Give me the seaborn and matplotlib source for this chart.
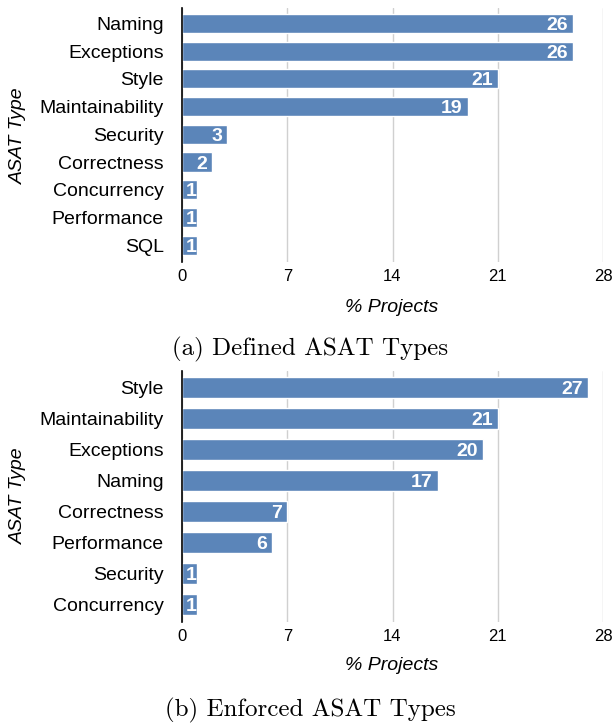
import matplotlib
matplotlib.use("Agg")
import matplotlib.pyplot as plt
import seaborn as sns
import pandas as pd

# Defined ASAT types (% projects)
defined_types = ["Naming", "Exceptions", "Style", "Maintainability", "Security",
                 "Correctness", "Concurrency", "Performance", "SQL"]
defined_pct = [26, 26, 21, 19, 3, 2, 1, 1, 1]

# Enforced ASAT types (% projects)
enforced_types = ["Style", "Maintainability", "Exceptions", "Naming",
                  "Correctness", "Performance", "Security", "Concurrency"]
enforced_pct = [27, 21, 20, 17, 7, 6, 1, 1]

x_ticks = [0, 7, 14, 21, 28]
captions = ["(a) Defined ASAT Types", "(b) Enforced ASAT Types"]

BAR = "#5b85b9"
W, H = 613, 723

sns.set_theme(style="white")
plt.rcParams["font.family"] = ["Liberation Sans", "DejaVu Sans"]
plt.rcParams["text.color"] = "black"

fig = plt.figure(figsize=(W / 100, H / 100), dpi=100)


def px_axes(left, top, right, bottom):
    return fig.add_axes([left / W, 1 - bottom / H, (right - left) / W, (bottom - top) / H])


def draw_panel(ax, types, pct, ylim, ylab_y, xlab_y, cap_y, caption):
    df = pd.DataFrame({"type": types, "pct": pct})
    sns.barplot(data=df, x="pct", y="type", color=BAR, saturation=1,
                width=0.69, ax=ax)
    ax.set_xlim(0, 28)
    ax.set_ylim(*ylim)
    ax.set_xticks(x_ticks)
    ax.set_xticklabels([str(t) for t in x_ticks])
    ax.xaxis.grid(True, color="#d0d0d0", linewidth=1)
    ax.set_axisbelow(True)
    for s in ["top", "right", "bottom"]:
        ax.spines[s].set_visible(False)
    ax.spines["left"].set_color("black")
    ax.spines["left"].set_linewidth(1.2)
    ax.tick_params(axis="x", length=0, pad=5, labelsize=12, colors="black")
    ax.tick_params(axis="y", length=0, pad=13, labelsize=14, colors="black")
    ax.set_xlabel("")
    ax.set_ylabel("")

    # value labels inside the bar ends
    for i, v in enumerate(pct):
        if v <= 1:
            ax.text(v * 0.63, i, str(v), ha="center", va="center_baseline",
                    color="white", fontsize=14, fontweight="bold")
        else:
            ax.text(v - 0.33, i, str(v), ha="right", va="center_baseline",
                    color="white", fontsize=14, fontweight="bold")

    fig.text(18 / W, 1 - ylab_y / H, "ASAT Type", rotation=90, ha="center",
             va="center", fontsize=14, fontstyle="italic")
    fig.text(392 / W, 1 - xlab_y / H, "% Projects", ha="center", va="center",
             fontsize=14, fontstyle="italic")
    fig.text(310 / W, 1 - cap_y / H, caption, ha="center", va="center",
             fontsize=18, family="cmr10")


ax1 = px_axes(182, 8, 603, 262)
draw_panel(ax1, defined_types, defined_pct, (8.61, -0.56), 136, 307, 349, captions[0])

ax2 = px_axes(182, 371, 603, 622)
draw_panel(ax2, enforced_types, enforced_pct, (7.56, -0.53), 496, 665, 710, captions[1])

fig.savefig("out.png", dpi=100)
plt.close(fig)
